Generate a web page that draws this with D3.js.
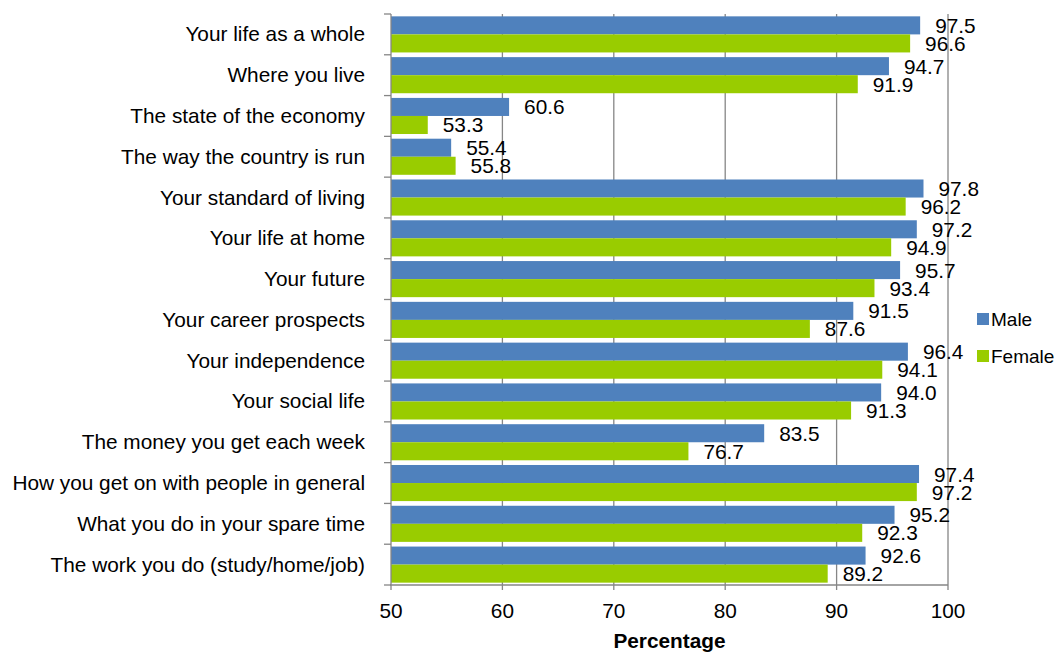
<!DOCTYPE html>
<html><head><meta charset="utf-8">
<script src="https://cdn.jsdelivr.net/npm/d3@7"></script>
<style>body{margin:0;background:#fff;} text{font-family:"Liberation Sans",Arial,sans-serif;}</style>
</head><body>
<svg id="c" width="1057" height="654"></svg>
<script>
const categories = ["Your life as a whole","Where you live","The state of the economy","The way the country is run","Your standard of living","Your life at home","Your future","Your career prospects","Your independence","Your social life","The money you get each week","How you get on with people in general","What you do in your spare time","The work you do (study/home/job)"];
const male = [97.5,94.7,60.6,55.4,97.8,97.2,95.7,91.5,96.4,94.0,83.5,97.4,95.2,92.6];
const female = [96.6,91.9,53.3,55.8,96.2,94.9,93.4,87.6,94.1,91.3,76.7,97.2,92.3,89.2];
const xTicks = [50,60,70,80,90,100];
const seriesNames = ["Male","Female"];
const colors = ["#4F81BD","#99CC00"];

const FS = 20.8;
const svg = d3.select("#c");
const L=391, R=948, T=14, B=585;
const x = d3.scaleLinear().domain([50,100]).range([L,R]);
const y = d3.scaleBand().domain(categories).range([T,B]).paddingInner(0.115).paddingOuter(0.0575);
const y2 = d3.scaleBand().domain(seriesNames).range([0,y.bandwidth()]);

// gridlines
svg.append("g").selectAll("line").data(xTicks.slice(1)).join("line")
  .attr("x1",d=>x(d)).attr("x2",d=>x(d)).attr("y1",T).attr("y2",B+5)
  .attr("stroke","#868686").attr("stroke-width",1.3);

const series = [male,female];
series.forEach((vals,si)=>{
  const g = svg.append("g");
  g.selectAll("rect").data(vals).join("rect")
    .attr("x",L).attr("y",(d,i)=>y(categories[i])+y2(seriesNames[si]))
    .attr("width",d=>x(d)-L).attr("height",y2.bandwidth())
    .attr("fill",colors[si]);
  g.selectAll("text").data(vals).join("text")
    .attr("x",d=>x(d)+15).attr("y",(d,i)=>y(categories[i])+y2(seriesNames[si])+y2.bandwidth()/2+7.5)
    .attr("font-size",FS).attr("fill","#000").text(d=>d.toFixed(1));
});

// axes lines
svg.append("line").attr("x1",L).attr("x2",L).attr("y1",T).attr("y2",B).attr("stroke","#868686").attr("stroke-width",1.3);
svg.append("line").attr("x1",L-1).attr("x2",R).attr("y1",B).attr("y2",B).attr("stroke","#868686").attr("stroke-width",1.3);
svg.append("line").attr("x1",L).attr("x2",L).attr("y1",B).attr("y2",B+5).attr("stroke","#868686").attr("stroke-width",1.3);
// y ticks at category boundaries
const bounds = d3.range(categories.length+1).map(i=>T+i*(B-T)/categories.length);
svg.append("g").selectAll("line").data(bounds).join("line")
  .attr("x1",L-7).attr("x2",L).attr("y1",d=>d).attr("y2",d=>d)
  .attr("stroke","#868686").attr("stroke-width",1.3);

// category labels
svg.append("g").selectAll("text").data(categories).join("text")
  .attr("x",365).attr("y",d=>y(d)+y.bandwidth()/2+7).attr("text-anchor","end")
  .attr("font-size",FS).attr("fill","#000").text(d=>d);

// x tick labels
svg.append("g").selectAll("text").data(xTicks).join("text")
  .attr("x",d=>x(d)).attr("y",618).attr("text-anchor","middle")
  .attr("font-size",FS).attr("fill","#000").text(d=>d);

svg.append("text").attr("x",(L+R)/2).attr("y",648).attr("text-anchor","middle")
  .attr("font-size",FS).attr("font-weight","bold").text("Percentage");

// legend
const lg = svg.append("g");
seriesNames.forEach((n,i)=>{
  const yy = 319 + i*37;
  lg.append("rect").attr("x",977).attr("y",yy-6).attr("width",12).attr("height",12).attr("fill",colors[i]);
  lg.append("text").attr("x",991).attr("y",yy+7).attr("font-size",19).text(n);
});
</script>
</body></html>
